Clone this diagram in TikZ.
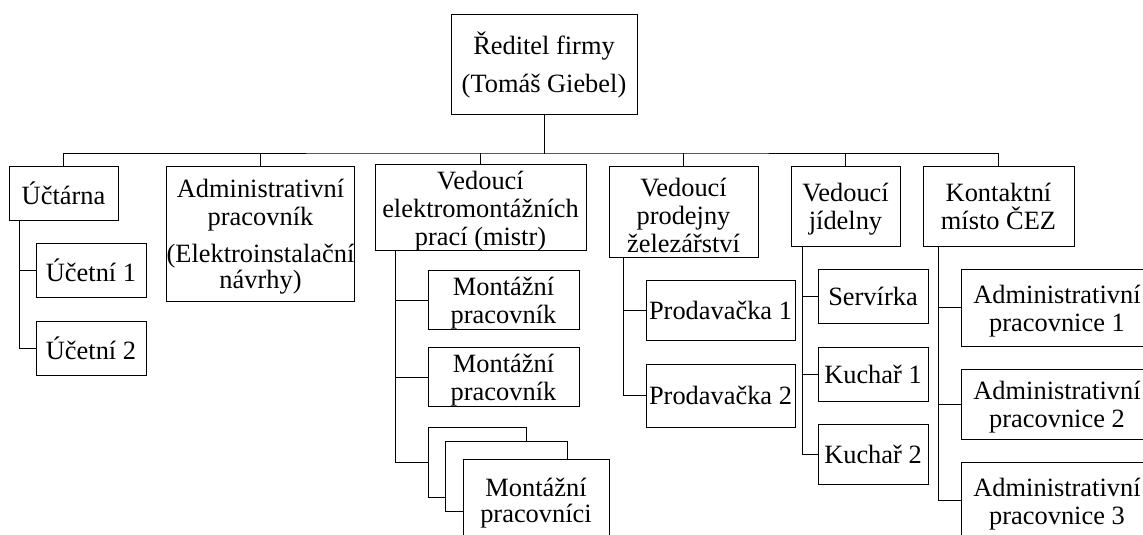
\documentclass[tikz,border=0pt]{standalone}
\usepackage{fontspec}
\setmainfont{Liberation Serif}
\usetikzlibrary{calc,positioning}

\tikzset{
  box/.style 2 args={draw,fill=white,inner sep=0pt,align=center,
    minimum width=#1*0.75pt,minimum height=#2*0.75pt},
}
\newcommand\topst{\rule{0pt}{19pt}}% pushes the first line down a bit

\begin{document}
\begin{tikzpicture}[x=0.75pt,y=-0.75pt,line width=0.75pt,line cap=rect,
  font=\fontsize{19.8}{21}\selectfont]
\clip (0,0) rectangle (1143,535);
% top
\node[box={186}{100}] (dir) at (544,65) {Ředitel firmy\\[7.5pt](Tomáš Giebel)};
% first level
\node[box={109}{54}] (uct) at (63.5,193) {Účtárna};
\node[box={185}{135}] (admin) at (260.5,233.5) {\topst Administrativní\\pracovník\\[6.75pt](Elektroinstalační\\[-1.5pt]návrhy)};
\node[box={211}{83}] (elektro) at (480.5,207.5) {\topst Vedoucí\\elektromontážních\\prací (mistr)};
\node[box={149}{91}] (prodejna) at (683.5,211.5) {\topst Vedoucí\\prodejny\\železářství};
\node[box={109}{80}] (jidelna) at (845.5,206) {\topst Vedoucí\\jídelny};
\node[box={151}{80}] (cez) at (998.5,206) {Kontaktní\\místo ČEZ};
% second level
\node[box={110}{54}] (uc1) at (91,270) {Účetní 1};
\node[box={110}{54}] (uc2) at (91,348) {Účetní 2};
\node[box={151}{54}] (mont1) at (503.5,300) {\topst Montážní\\pracovník};
\node[box={151}{54}] (mont2) at (503.5,377) {\topst Montážní\\pracovník};
\node[box={98}{70}] (montA) at (477,462) {};
\node[box={122}{70}] (montB) at (506,476) {};
\node[box={146}{82}] (montC) at (536,500) {\topst Montážní\\[-1.5pt]pracovníci};
\node[box={149}{60}] (prod1) at (720.5,310) {Prodavačka 1};
\node[box={149}{63}] (prod2) at (720.5,395.5) {Prodavačka 2};
\node[box={110}{54}] (serv) at (873,296) {Servírka};
\node[box={110}{54}] (kuch1) at (873,374) {Kuchař 1};
\node[box={110}{60}] (kuch2) at (873,454) {Kuchař 2};
\node[box={192}{77}] (ap1) at (1057,307.5) {\topst Administrativní\\pracovnice 1};
\node[box={192}{70}] (ap2) at (1057,404) {\topst Administrativní\\pracovnice 2};
\node[box={192}{77}] (ap3) at (1057,500.5) {\topst Administrativní\\pracovnice 3};
% connectors
\coordinate (bus) at (544,153);
\draw (dir.south) -- (bus);
\draw (uct.north) |- (bus) -| (cez.north);
\foreach \n in {admin,elektro,prodejna,jidelna}{\draw (\n.north) -- (\n.north |- bus);}
\coordinate (uctD) at ($(uct.south west)+(11,0)$);
\coordinate (elD) at ($(elektro.south west)+(21,0)$);
\coordinate (prD) at ($(prodejna.south west)+(15,0)$);
\coordinate (jiD) at ($(jidelna.south west)+(12,0)$);
\coordinate (czD) at ($(cez.south west)+(16,0)$);
\draw (uctD) |- (uc1.west) (uctD) |- (uc2.west);
\draw (elD) |- (mont1.west) (elD) |- (mont2.west) (elD) |- (montA.west);
\draw (prD) |- (prod1.west) (prD) |- (prod2.west);
\draw (jiD) |- (serv.west) (jiD) |- (kuch1.west) (jiD) |- (kuch2.west);
\draw (czD) |- (ap1.west) (czD) |- (ap2.west) (czD) |- (ap3.west);
\end{tikzpicture}
\end{document}
